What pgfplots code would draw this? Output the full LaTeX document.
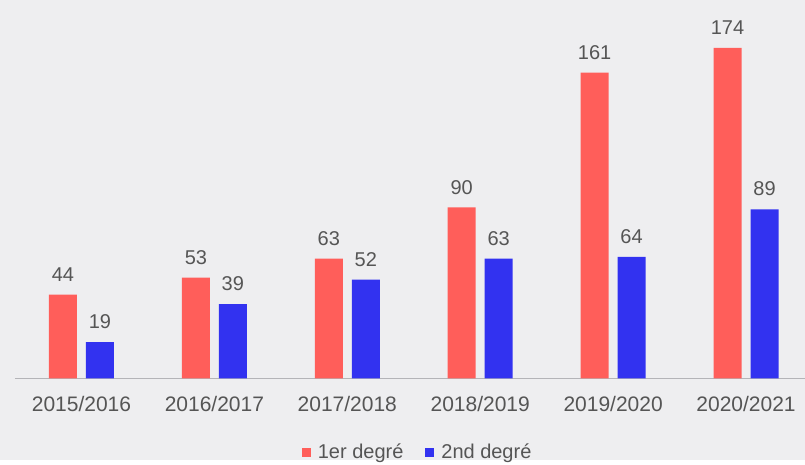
\documentclass[border=0pt]{standalone}
\usepackage{pgfplots}
\pgfplotsset{compat=1.18}
\usepackage{fontspec}
\setmainfont{Liberation Sans}

\definecolor{bg}{HTML}{EEEEF0}
\definecolor{redbar}{HTML}{FF5E5A}
\definecolor{bluebar}{HTML}{3232F0}
\definecolor{txtgray}{HTML}{555555}
\definecolor{axisgray}{HTML}{B4B4B8}

\begin{document}
\begin{tikzpicture}[x=1pt,y=1pt]
  \fill[bg] (0,0) rectangle (805,460);
  \begin{axis}[
    at={(15pt,81.5pt)}, anchor=south west,
    scale only axis,
    width=790pt, height=360.9pt,
    ybar, bar width=28pt, ybar=9pt,
    xmin=-0.5, xmax=5.44,
    ymin=0, ymax=190,
    axis x line*=bottom,
    axis y line=none,
    x axis line style={axisgray, line width=1pt, -},
    xtick=data,
    xticklabels={2015/2016, 2016/2017, 2017/2018, 2018/2019, 2019/2020, 2020/2021},
    major tick length=0pt,
    /pgf/number format/assume math mode=true,
    xticklabel style={font=\fontsize{21}{24}\selectfont, text=txtgray, inner sep=0pt, yshift=-18pt},
    nodes near coords,
    every node near coord/.append style={font=\fontsize{20}{24}\selectfont, text=txtgray, anchor=south, inner sep=0pt, yshift=13pt},
    clip=false,
    legend style={at={(0.51,-0.205)}, anchor=center, draw=none, fill=none,
      legend columns=-1, font=\fontsize{20}{24}\selectfont, text=txtgray,
      /tikz/every odd column/.append style={column sep=5pt},
      /tikz/every even column/.append style={column sep=20pt}},
    legend image code/.code={\fill[#1] (0pt,-4.5pt) rectangle (9pt,4.5pt);},
  ]
    \addplot[draw=none, fill=redbar] coordinates {(0,44) (1,53) (2,63) (3,90) (4,161) (5,174)};
    \addplot[draw=none, fill=bluebar] coordinates {(0,19) (1,39) (2,52) (3,63) (4,64) (5,89)};
    \legend{1er degré, 2nd degré}
  \end{axis}
\end{tikzpicture}
\end{document}
